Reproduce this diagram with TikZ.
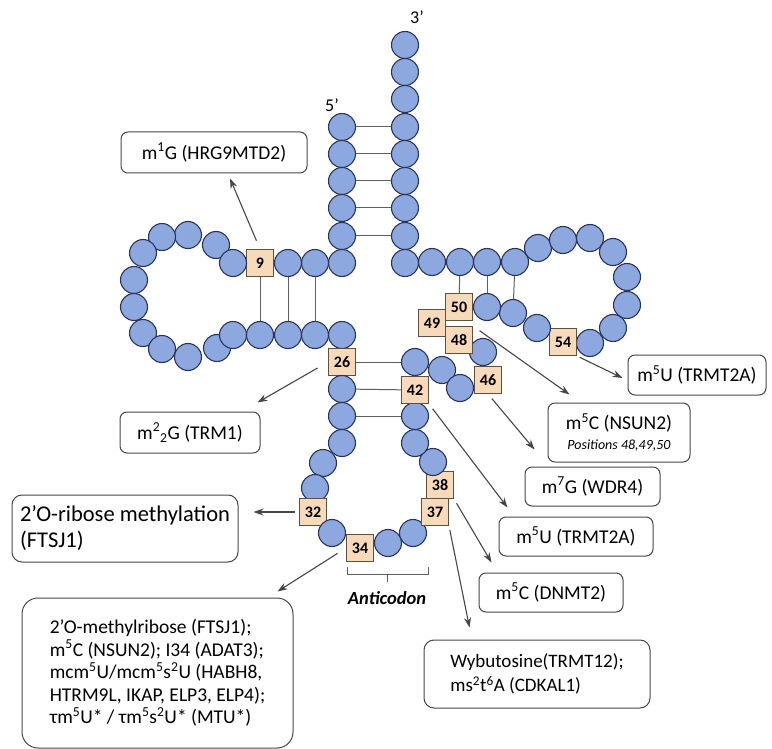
\documentclass[tikz,border=0pt]{standalone}
\usepackage{fontspec}
\setmainfont{Carlito}
\usepackage{tikz}
\usetikzlibrary{shapes.geometric}
\usetikzlibrary{arrows.meta,calc}
\definecolor{ntfill}{RGB}{140,168,222}
\definecolor{ntborder}{RGB}{40,52,92}
\definecolor{posfill}{RGB}{247,218,186}
\definecolor{posborder}{RGB}{95,80,65}
\definecolor{modborder}{RGB}{70,70,70}
\definecolor{bondgray}{RGB}{95,95,95}
\tikzstyle{nt} = [circle, draw=ntborder, fill=ntfill, line width=1.1pt,
    minimum size=27pt, inner sep=0pt]
\tikzstyle{posbox} = [rectangle, draw=posborder, fill=posfill, line width=1pt,
    minimum size=27pt, inner sep=0pt, font=\fontsize{16}{16}\selectfont\bfseries]
\tikzstyle{modbox} = [rectangle, draw=modborder, rounded corners=7pt, line width=1pt,
    inner sep=0pt, font=\fontsize{19.5}{22}\selectfont]
\tikzstyle{bond} = [draw=bondgray, line width=1pt]
\tikzstyle{line} = [draw=modborder, line width=1.1pt, -{Stealth[length=10pt,width=7pt]}]

\begin{document}
\begin{tikzpicture}[x=1pt, y=-1pt]
  \useasboundingbox (0,0) rectangle (772,749);
  % acceptor stem
  \node [nt] (a1) at (405,45) {};  \node [nt] (a2) at (405,72) {};
  \node [nt] (a3) at (405,99) {};  \node [nt] (a4) at (405,127) {};
  \node [nt] (a5) at (405,154) {}; \node [nt] (a6) at (405,181) {};
  \node [nt] (a7) at (405,208) {}; \node [nt] (a8) at (405,236) {};
  \node [nt] (a9) at (405,263) {};
  \node [nt] (p1) at (342,127) {}; \node [nt] (p2) at (342,154) {};
  \node [nt] (p3) at (342,181) {}; \node [nt] (p4) at (342,208) {};
  \node [nt] (p5) at (342,236) {}; \node [nt] (p6) at (342,263) {};
  \node [font=\fontsize{18}{18}\selectfont] (five) at (332,105) {5’};
  \node [font=\fontsize{18}{18}\selectfont] (three) at (417,17) {3’};
  % D arm
  \node [nt] (d1) at (315,263) {}; \node [nt] (d2) at (288,263) {};
  \node [posbox] (n9) at (260,263) {9};
  \node [nt] (d4) at (216,245) {}; \node [nt] (d3) at (233,263) {};
  \node [nt] (d5) at (188,235) {}; \node [nt] (d6) at (162,237) {};
  \node [nt] (d7) at (143,253) {}; \node [nt] (d8) at (134,280) {};
  \node [nt] (d9) at (134,307) {}; \node [nt] (d10) at (143,333) {};
  \node [nt] (d11) at (162,349) {}; \node [nt] (d12) at (188,357) {};
  \node [nt] (d13) at (217,348) {}; \node [nt] (d14) at (233,335) {};
  \node [nt] (d15) at (260,335) {}; \node [nt] (d16) at (288,335) {};
  \node [nt] (d17) at (315,335) {}; \node [nt] (d18) at (342,335) {};
  % anticodon arm
  \node [posbox] (n26) at (342,362) {26};
  \node [nt] (c1) at (342,389) {}; \node [nt] (c2) at (342,416) {};
  \node [nt] (c3) at (342,443) {}; \node [nt] (c4) at (323,463) {};
  \node [nt] (c5) at (315,488) {};
  \node [posbox] (n32) at (313,512) {32};
  \node [nt] (c6) at (332,533) {};
  \node [posbox] (n34) at (360,548) {34};
  \node [nt] (c7) at (388,543) {}; \node [nt] (c8) at (413,533) {};
  \node [posbox] (n37) at (435,512) {37};
  \node [posbox] (n38) at (440,485) {38};
  \node [nt] (c9) at (433,462) {}; \node [nt] (c10) at (415,443) {};
  \node [nt] (c11) at (415,416) {};
  \node [posbox] (n42) at (415,390) {42};
  \node [nt] (c12) at (415,362) {};
  % variable loop
  \node [nt] (v1) at (442,370) {}; \node [nt] (v2) at (460,388) {};
  \node [nt] (v3) at (483,352) {};
  \node [posbox] (n46) at (488,380) {46};
  \node [posbox] (n48) at (459,340) {48};
  \node [posbox] (n49) at (432,323) {49};
  \node [posbox] (n50) at (459,307) {50};
  % T arm
  \node [nt] (t1) at (432,262) {}; \node [nt] (t2) at (460,262) {};
  \node [nt] (t3) at (487,262) {}; \node [nt] (t4) at (515,262) {};
  \node [nt] (t5) at (538,248) {}; \node [nt] (t6) at (563,240) {};
  \node [nt] (t7) at (590,238) {}; \node [nt] (t8) at (613,252) {};
  \node [nt] (t9) at (627,277) {}; \node [nt] (t10) at (627,305) {};
  \node [nt] (t11) at (613,328) {}; \node [nt] (t12) at (590,343) {};
  \node [posbox] (n54) at (563,342) {54};
  \node [nt] (t13) at (537,328) {}; \node [nt] (t14) at (513,313) {};
  \node [nt] (t15) at (487,307) {};
  % pairs
  \path [bond] (p1) -- (a4);  \path [bond] (p2) -- (a5);  \path [bond] (p3) -- (a6);
  \path [bond] (p4) -- (a7);  \path [bond] (p5) -- (a8);
  \path [bond] (n9) -- (d15); \path [bond] (d2) -- (d16); \path [bond] (d1) -- (d17);
  \path [bond] (n26) -- (c12); \path [bond] (c1) -- (n42); \path [bond] (c2) -- (c11);
  \path [bond] (t2) -- (n50); \path [bond] (t3) -- (t15); \path [bond] (t4) -- (t14);
  \draw [bondgray, line width=1pt] (347,567) |- (428,574) -- (428,567);
  \draw [bondgray, line width=1pt] (387,574) -- (387,582);
  \node [font=\fontsize{18.5}{18.5}\selectfont\bfseries\itshape] (acodon) at (387,598) {Anticodon};
  % modifications
  \node [modbox, minimum width=186pt, minimum height=41pt] (m1g) at (214,152.5)
    {m\textsuperscript{1}G (HRG9MTD2)};
  \node [modbox, minimum width=140pt, minimum height=41pt] (m22g) at (190,432.5)
    {m\textsuperscript{2}\textsubscript{2}G (TRM1)};
  \node [modbox, minimum width=226pt, minimum height=67pt, align=left, rounded corners=10pt,
    font=\fontsize{22.5}{26}\selectfont] (ribose) at (125,528.5)
    {2’O-ribose methylation\\(FTSJ1)};
  \node [modbox, minimum width=271pt, minimum height=150pt, align=left, rounded corners=16pt,
    font=\fontsize{19.5}{22.5}\selectfont] (big) at (157.5,673)
    {2’O-methylribose (FTSJ1);\\
     m\textsuperscript{5}C (NSUN2); I34 (ADAT3);\\
     mcm\textsuperscript{5}U/mcm\textsuperscript{5}s\textsuperscript{2}U (HABH8,\\
     HTRM9L, IKAP, ELP3, ELP4);\\
     τm\textsuperscript{5}U* / τm\textsuperscript{5}s\textsuperscript{2}U* (MTU*)};
  \node [modbox, minimum width=138pt, minimum height=40pt] (m5ua) at (697,375)
    {m\textsuperscript{5}U (TRMT2A)};
  \node [modbox, minimum width=142pt, minimum height=59pt, align=center,
    font=\fontsize{19.5}{20}\selectfont] (nsun2) at (619,432.5)
    {m\textsuperscript{5}C (NSUN2)\\{\fontsize{14}{14}\selectfont\itshape Positions 48,49,50}};
  \node [modbox, minimum width=135pt, minimum height=39pt] (m7g) at (592.5,486.5)
    {m\textsuperscript{7}G (WDR4)};
  \node [modbox, minimum width=154pt, minimum height=39pt] (m5ub) at (576,536.5)
    {m\textsuperscript{5}U (TRMT2A)};
  \node [modbox, minimum width=144pt, minimum height=39pt] (dnmt2) at (551,592.5)
    {m\textsuperscript{5}C (DNMT2)};
  \node [modbox, minimum width=226pt, minimum height=68pt, align=left, rounded corners=10pt,
    font=\fontsize{19}{24}\selectfont] (wyb) at (537,674)
    {Wybutosine(TRMT12);\\ms\textsuperscript{2}t\textsuperscript{6}A (CDKAL1)};
  % arrows
  \path [line, shorten <=9pt] (n9.north) -- ($(m1g.south)+(16,5)$);
  \path [line, shorten <=12pt] (n26.west) -- ($(m22g.north east)+(-3,-9)$);
  \path [line, shorten <=4pt, shorten >=15pt] (n32.west) -- (ribose.east |- n32.west);
  \path [line, shorten <=10pt] (n34.west) -- ($(big.north east)+(-16,-6)$);
  \path [line, shorten <=3pt] (n54.south east) -- ($(m5ua.west)+(-5,3)$);
  \path [line, shorten <=8pt] (n48.north east) -- ($(nsun2.north west)+(22,-8)$);
  \path [line, shorten <=6pt] (n46.south) -- ($(m7g.north west)+(10,-17)$);
  \path [line, shorten <=6pt] (n42.south east) -- ($(m5ub.north west)+(9,-9)$);
  \path [line, shorten <=5pt] (n38.south east) -- ($(dnmt2.north west)+(13,-10)$);
  \path [line, shorten <=4pt] (n37.south east) -- ($(wyb.north west)+(46,-12)$);
\end{tikzpicture}
\end{document}
